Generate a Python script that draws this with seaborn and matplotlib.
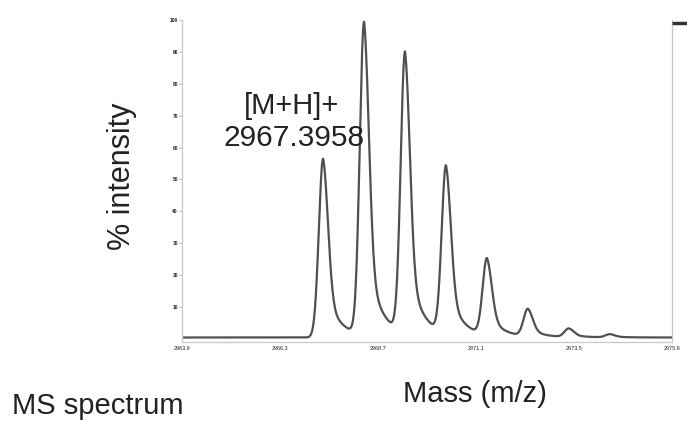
import matplotlib
matplotlib.use("Agg")
import matplotlib.pyplot as plt
import numpy as np
import pandas as pd
import seaborn as sns

# isotope cluster (peak m/z, % intensity)
peak_mz = [2967.3958, 2968.399, 2969.402, 2970.406, 2971.409, 2972.412, 2973.416, 2974.419]
peak_int = [56.0, 98.0, 88.0, 52.5, 24.0, 8.6, 2.7, 1.0]

x_ticks = [2963.94, 2966.34, 2968.74, 2971.14, 2973.54, 2975.94]
y_ticks = [0, 10, 20, 30, 40, 50, 60, 70, 80, 90, 100]

label_top = "[M+H]+"
label_mass = "2967.3958"

# build the profile trace from the peak list (tailing peak shape)
mz = np.linspace(x_ticks[0], x_ticks[-1], 3000)
signal = np.full_like(mz, 0.5)
for c, h in zip(peak_mz, peak_int):
    d = mz - c
    left = np.exp(-d ** 2 / (2 * 0.105 ** 2))
    right = 0.7 * np.exp(-d ** 2 / (2 * 0.12 ** 2)) + 0.3 * np.exp(-np.clip(d, 0, None) / 0.34)
    signal += h * np.where(d < 0, left, right)
df = pd.DataFrame({"mz": mz, "intensity": signal})

sns.set_style("white")
plt.rcParams["font.family"] = ["Liberation Sans", "DejaVu Sans"]

fig = plt.figure(figsize=(6.87, 4.21), dpi=100)
ax = fig.add_axes([0.265, 0.187, 0.713, 0.766])
sns.lineplot(data=df, x="mz", y="intensity", color="#505050", linewidth=1.6, ax=ax)

ax.set_xlim(x_ticks[0], x_ticks[-1])
ax.set_ylim(-1, 100)
ax.set_xticks(x_ticks)
ax.set_xticklabels([f"{t:.1f}" for t in x_ticks], fontsize=4, color="#222222")
ax.set_yticks(y_ticks[1:])
ax.set_yticklabels([str(t) for t in y_ticks[1:]], fontsize=3.5, color="#222222", fontweight="bold")
ax.tick_params(axis="both", length=2, width=0.6, color="#aaaaaa", pad=1)
ax.set_xlabel("")
ax.set_ylabel("% intensity", fontsize=22, color="#222222")
ax.yaxis.set_label_coords(-0.093, 0.515)

for side in ["left", "bottom", "right"]:
    ax.spines[side].set_color("#c8c8c8")
    ax.spines[side].set_linewidth(0.9)
ax.spines["top"].set_visible(False)

ax2 = ax.twinx()
ax2.set_ylim(ax.get_ylim())
ax2.set_yticks([99])
ax2.set_yticklabels([""])
ax2.tick_params(axis="y", length=14, width=2.5, color="#333333")
for s in ax2.spines.values():
    s.set_visible(False)

ax.text(peak_mz[0] - 0.77, 73, label_top, ha="center", va="center", fontsize=21, color="#222222")
ax.text(peak_mz[0] - 0.72, 63, label_mass, ha="center", va="center", fontsize=21.5, color="#222222")

fig.text(0.692, 0.065, "Mass (m/z)", ha="center", va="center", fontsize=21, color="#222222")
fig.text(0.017, 0.036, "MS spectrum", ha="left", va="center", fontsize=21, color="#222222")

fig.savefig("out.png", dpi=100)
